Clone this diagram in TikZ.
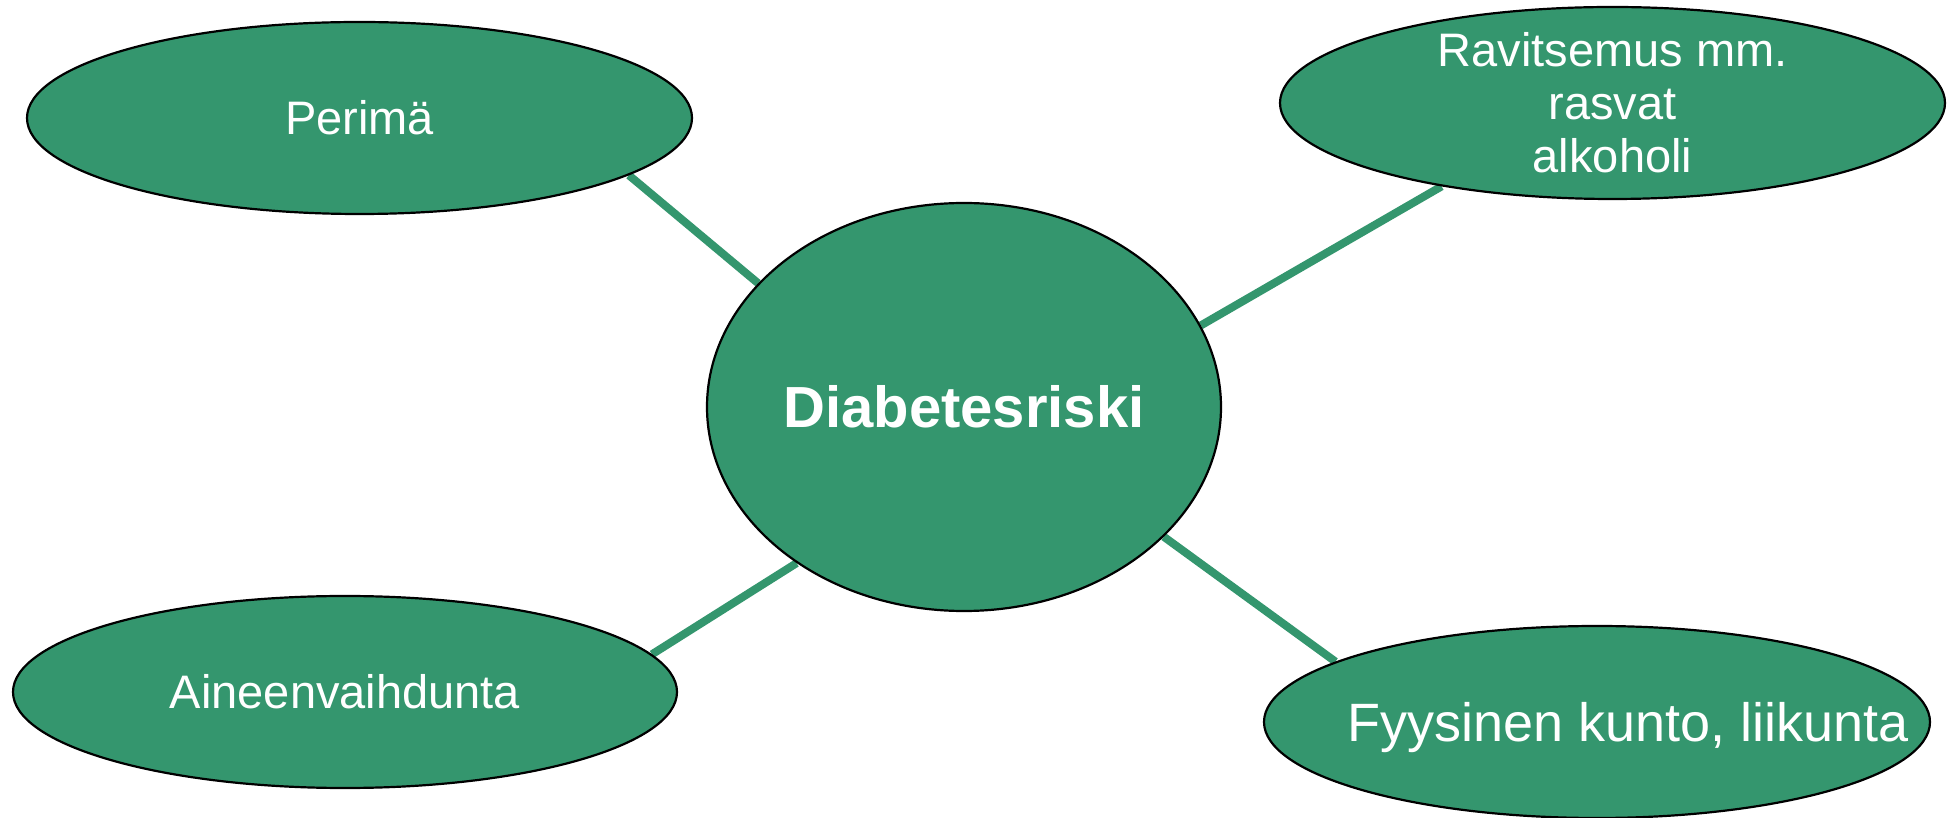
\documentclass[tikz,border=0pt]{standalone}
\usepackage{fontspec}
\setmainfont{Liberation Sans}
\usetikzlibrary{shapes.geometric,backgrounds}
\definecolor{leaf}{RGB}{52,150,110}
\begin{document}
\begin{tikzpicture}[x=1pt,y=1pt,
  bubble/.style={ellipse, draw=black, line width=2.2pt, fill=leaf, inner sep=0pt,
    text=white, font=\fontsize{47}{53}\selectfont},
  oneline/.style={text height=43pt, text depth=9pt},
  link/.style={draw=leaf, line width=8pt}]
\useasboundingbox (0,0) rectangle (1955,817);
\node[bubble, oneline, minimum width=665pt, minimum height=192pt] (peri) at (359.5,699) {Perimä};
\node[bubble, align=center, inner ysep=-6pt, minimum width=665pt, minimum height=192pt] (ravi) at (1612.5,714) {Ravitsemus mm.\\rasvat\\alkoholi};
\node[bubble, text height=51pt, text depth=10pt, font=\fontsize{58}{64}\selectfont\bfseries, minimum width=514pt, minimum height=408pt] (diab) at (964,410) {Diabetesriski};
\node[bubble, oneline, minimum width=664pt, minimum height=192pt] (aine) at (345,125) {Aineenvaihdunta};
\node[bubble, text height=49pt, text depth=10pt, inner xsep=-90pt, font=\fontsize{54}{60}\selectfont, minimum width=666pt, minimum height=192pt] (fyys) at (1597,95) {\hspace*{62pt}Fyysinen kunto, liikunta};
\begin{scope}[on background layer]
\draw[link] (peri.-12.8) -- (diab.149.8);
\draw[link] (diab.19.1) -- (ravi.206.9);
\draw[link] (diab.223.8) -- (aine.7.5);
\draw[link] (diab.-33.8) -- (fyys.167.4);
\end{scope}
\end{tikzpicture}
\end{document}
